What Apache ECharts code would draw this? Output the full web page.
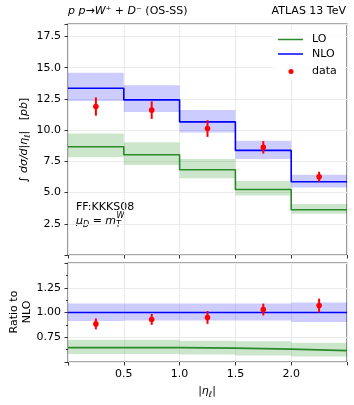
<!DOCTYPE html>
<html>
<head>
<meta charset="utf-8">
<script src="https://cdn.jsdelivr.net/npm/echarts@6/dist/echarts.min.js"></script>
<style>
  html, body { margin: 0; padding: 0; background: #fff; }
  #chart { width: 354px; height: 405px; }
</style>
</head>
<body>
<div id="chart"></div>
<script>
// bin edges in |eta_l|
const edges = [0, 0.5, 1.0, 1.5, 2.0, 2.5]
const binCenters = [0.25, 0.75, 1.25, 1.75, 2.25]

// integrated cross section [pb]
const nlo = [13.35, 12.42, 10.66, 8.38, 5.87]
const nloUp = [14.6, 13.59, 11.62, 9.15, 6.43]
const nloDown = [12.34, 11.46, 9.82, 7.69, 5.40]
const lo = [8.67, 8.03, 6.83, 5.24, 3.62]
const loUp = [9.74, 9.02, 7.69, 5.93, 4.09]
const loDown = [7.82, 7.21, 6.14, 4.76, 3.30]
const dataVal = [11.89, 11.6, 10.13, 8.62, 6.27]
const dataErr = [0.73, 0.7, 0.67, 0.5, 0.4]

// ratio to NLO
const rNlo = [1.0, 1.0, 1.0, 1.0, 1.0]
const rNloUp = [1.09, 1.09, 1.09, 1.09, 1.10]
const rNloDown = [0.915, 0.92, 0.92, 0.92, 0.905]
const rLo = [0.645, 0.645, 0.64, 0.63, 0.615]
const rLoUp = [0.725, 0.725, 0.715, 0.71, 0.695]
const rLoDown = [0.58, 0.58, 0.575, 0.565, 0.555]
const rData = [0.885, 0.93, 0.95, 1.03, 1.07]
const rDataErr = [0.055, 0.055, 0.065, 0.06, 0.07]

const topTicks = [2.5, 5.0, 7.5, 10.0, 12.5, 15.0, 17.5]
const ratioTicks = [0.75, 1.0, 1.25]
const xTicks = [0.5, 1.0, 1.5, 2.0]

const FONT = 'DejaVu Sans'
const BLUE = '#0000ff'
const GREEN = '#2a8a2a'
const RED = '#ff0000'
const FRAME = '#555555'

function stepData (vals) {
  return edges.map((e, i) => [e, vals[Math.min(i, vals.length - 1)]])
}
function bandData (up, down) {
  return up.map((u, i) => [edges[i], edges[i + 1], down[i], u])
}
function errData (vals, errs) {
  return vals.map((v, i) => [binCenters[i], v, errs[i]])
}

function renderBand (params, api) {
  const p1 = api.coord([api.value(0), api.value(3)])
  const p2 = api.coord([api.value(1), api.value(2)])
  return {
    type: 'rect',
    shape: { x: p1[0], y: p1[1], width: p2[0] - p1[0], height: p2[1] - p1[1] },
    style: { fill: api.visual('color') }
  }
}
function renderErr (params, api) {
  const x = api.value(0), y = api.value(1), e = api.value(2)
  const c = api.coord([x, y])
  const hi = api.coord([x, y + e])
  const lo = api.coord([x, y - e])
  return {
    type: 'group',
    children: [
      { type: 'line', shape: { x1: hi[0], y1: hi[1], x2: lo[0], y2: lo[1] }, style: { stroke: RED, lineWidth: 2 } },
      { type: 'circle', shape: { cx: c[0], cy: c[1], r: 2.8 }, style: { fill: RED } }
    ]
  }
}

function labelFormatter (ticks, digits) {
  return function (v) {
    for (const t of ticks) {
      if (Math.abs(t - v) < 1e-6) return v.toFixed(digits)
    }
    return ''
  }
}

const axisCommon = {
  axisLine: { show: false },
  axisTick: { show: true, length: 3.5, lineStyle: { color: '#333', width: 1 } },
  axisLabel: { color: '#000', fontFamily: FONT, fontSize: 11 },
  splitLine: { show: true, lineStyle: { color: '#ebebeb', width: 1 } }
}

const richMath = {
  i: { fontStyle: 'italic', fontFamily: FONT, fontSize: 11, lineHeight: 15, verticalAlign: 'middle' },
  n: { fontFamily: FONT, fontSize: 11, lineHeight: 15, verticalAlign: 'middle' },
  s: { fontStyle: 'italic', fontFamily: FONT, fontSize: 8, lineHeight: 15, verticalAlign: 'bottom' }
}

const chart = echarts.init(document.getElementById('chart'), null, { renderer: 'canvas' })

const option = {
  animation: false,
  backgroundColor: '#fff',
  grid: [
    { left: 68, right: 7, top: 24, height: 231, show: true, borderColor: FRAME, borderWidth: 1.2, backgroundColor: 'transparent' },
    { left: 68, right: 7, top: 263, height: 99, show: true, borderColor: FRAME, borderWidth: 1.2, backgroundColor: 'transparent' }
  ],
  xAxis: [
    Object.assign({}, axisCommon, {
      type: 'value', gridIndex: 0, min: 0, max: 2.5, interval: 0.5,
      axisLabel: { show: false }
    }),
    Object.assign({}, axisCommon, {
      type: 'value', gridIndex: 1, min: 0, max: 2.5, interval: 0.5,
      axisLabel: { color: '#000', fontFamily: FONT, fontSize: 11, margin: 7, formatter: labelFormatter(xTicks, 1) }
    })
  ],
  yAxis: [
    Object.assign({}, axisCommon, {
      type: 'value', gridIndex: 0, min: 0, max: 18.5, interval: 2.5,
      axisLabel: { color: '#000', fontFamily: FONT, fontSize: 11, margin: 7, formatter: labelFormatter(topTicks, 1) }
    }),
    Object.assign({}, axisCommon, {
      type: 'value', gridIndex: 1, min: 0.5, max: 1.5, interval: 0.25,
      minorTick: { show: true, splitNumber: 2, length: 2, lineStyle: { color: '#333' } },
      axisLabel: { color: '#000', fontFamily: FONT, fontSize: 11, margin: 7, formatter: labelFormatter(ratioTicks, 2) }
    })
  ],
  series: [
    { type: 'custom', name: 'NLO band', xAxisIndex: 0, yAxisIndex: 0, renderItem: renderBand, data: bandData(nloUp, nloDown), itemStyle: { color: 'rgba(0,0,255,0.2)' }, clip: true, z: 1 },
    { type: 'custom', name: 'LO band', xAxisIndex: 0, yAxisIndex: 0, renderItem: renderBand, data: bandData(loUp, loDown), itemStyle: { color: 'rgba(0,128,0,0.2)' }, clip: true, z: 1 },
    { type: 'line', name: 'LO', xAxisIndex: 0, yAxisIndex: 0, step: 'end', data: stepData(lo), showSymbol: false, lineStyle: { color: GREEN, width: 1.6 }, z: 3 },
    { type: 'line', name: 'NLO', xAxisIndex: 0, yAxisIndex: 0, step: 'end', data: stepData(nlo), showSymbol: false, lineStyle: { color: BLUE, width: 1.6 }, z: 3 },
    { type: 'custom', name: 'data', xAxisIndex: 0, yAxisIndex: 0, renderItem: renderErr, data: errData(dataVal, dataErr), z: 5 },

    { type: 'custom', name: 'NLO band r', xAxisIndex: 1, yAxisIndex: 1, renderItem: renderBand, data: bandData(rNloUp, rNloDown), itemStyle: { color: 'rgba(0,0,255,0.2)' }, clip: true, z: 1 },
    { type: 'custom', name: 'LO band r', xAxisIndex: 1, yAxisIndex: 1, renderItem: renderBand, data: bandData(rLoUp, rLoDown), itemStyle: { color: 'rgba(0,128,0,0.2)' }, clip: true, z: 1 },
    { type: 'line', name: 'LO r', xAxisIndex: 1, yAxisIndex: 1, step: 'end', data: stepData(rLo), showSymbol: false, lineStyle: { color: GREEN, width: 1.6 }, z: 3 },
    { type: 'line', name: 'NLO r', xAxisIndex: 1, yAxisIndex: 1, step: 'end', data: stepData(rNlo), showSymbol: false, lineStyle: { color: BLUE, width: 1.3 }, z: 3 },
    { type: 'custom', name: 'data r', xAxisIndex: 1, yAxisIndex: 1, renderItem: renderErr, data: errData(rData, rDataErr), z: 5 }
  ],
  graphic: [
    // title
    {
      type: 'text', left: 68, top: 6,
      style: {
        text: '{i|p p}{n|→}{i|W⁺}{n| + }{i|D⁻}{n| (OS-SS)}',
        fontFamily: FONT, fontSize: 11, fill: '#000',
        rich: { i: { fontStyle: 'italic', fontFamily: FONT, fontSize: 11 }, n: { fontFamily: FONT, fontSize: 11 } }
      }
    },
    { type: 'text', right: 8, top: 6, style: { text: 'ATLAS 13 TeV', fontFamily: FONT, fontSize: 11, fill: '#000' } },

    // legend box (hides the grid lines behind it)
    { type: 'rect', shape: { x: 273, y: 30, width: 72, height: 50 }, style: { fill: 'rgba(255,255,255,0.85)' }, z: 10 },
    { type: 'line', shape: { x1: 278, y1: 39.5, x2: 303, y2: 39.5 }, style: { stroke: GREEN, lineWidth: 1.5 }, z: 11 },
    { type: 'text', x: 312, y: 39.5, style: { text: 'LO', fontFamily: FONT, fontSize: 11, fill: '#000', textVerticalAlign: 'middle' }, z: 11 },
    { type: 'line', shape: { x1: 278, y1: 54, x2: 303, y2: 54 }, style: { stroke: BLUE, lineWidth: 1.5 }, z: 11 },
    { type: 'text', x: 312, y: 54, style: { text: 'NLO', fontFamily: FONT, fontSize: 11, fill: '#000', textVerticalAlign: 'middle' }, z: 11 },
    { type: 'circle', shape: { cx: 291, cy: 71.5, r: 2.5 }, style: { fill: RED }, z: 11 },
    { type: 'text', x: 312, y: 71, style: { text: 'data', fontFamily: FONT, fontSize: 11, fill: '#000', textVerticalAlign: 'middle' }, z: 11 },

    // annotations
    { type: 'text', x: 76, y: 207, style: { text: 'FF:KKKS08', fontFamily: FONT, fontSize: 11, fill: '#000', textVerticalAlign: 'middle' } },
    {
      type: 'text', x: 76, y: 221,
      style: { text: '{i|μ}{s|D}{n| = }{i|m}{s|T}', fontFamily: FONT, fontSize: 11, fill: '#000', textVerticalAlign: 'middle', rich: richMath }
    },
    { type: 'text', x: 116.5, y: 216, style: { text: 'W', fontFamily: FONT, fontStyle: 'italic', fontSize: 8, fill: '#000', textVerticalAlign: 'middle' } },

    // axis titles
    {
      type: 'text', x: 24, y: 140, rotation: Math.PI / 2,
      style: {
        text: '{i|∫ dσ/d|η}{s|ℓ}{i||}{n|   [}{i|pb}{n|]}',
        fontFamily: FONT, fontSize: 11, fill: '#000', align: 'center', verticalAlign: 'middle', rich: richMath
      }
    },
    {
      type: 'text', x: 21, y: 312, rotation: Math.PI / 2,
      style: { text: 'Ratio to\nNLO', fontFamily: FONT, fontSize: 11, lineHeight: 13, fill: '#000', align: 'center', verticalAlign: 'middle' }
    },
    {
      type: 'text', x: 207, y: 391,
      style: { text: '{n||}{i|η}{s|ℓ}{n||}', fontFamily: FONT, fontSize: 11, fill: '#000', align: 'center', verticalAlign: 'middle', rich: richMath }
    }
  ]
}

chart.setOption(option)
</script>
</body>
</html>
